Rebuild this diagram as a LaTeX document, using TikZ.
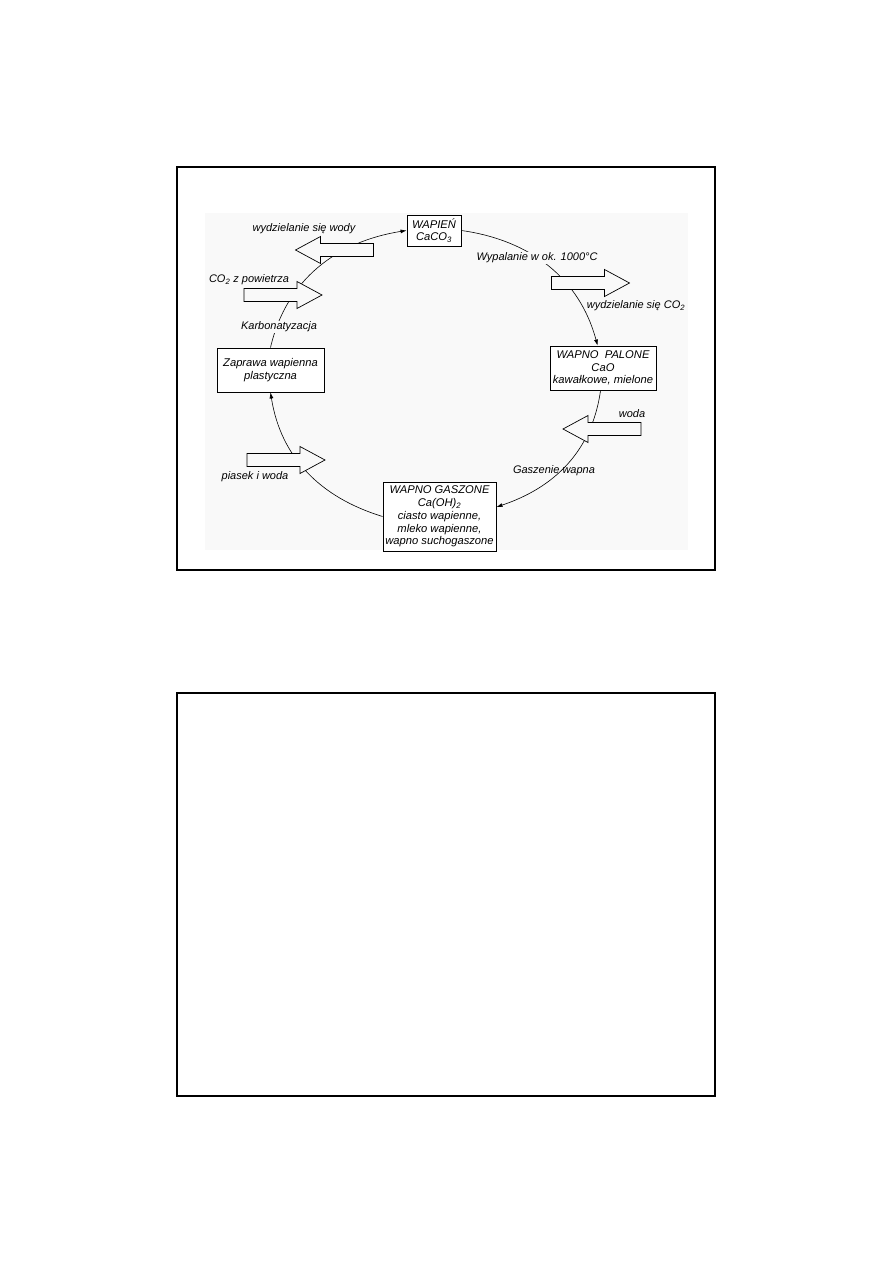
\documentclass[tikz,border=0pt]{standalone}
\usepackage{fontspec}
\setmainfont{Liberation Sans}
\usetikzlibrary{arrows.meta}
\definecolor{bggray}{RGB}{249,249,249}
\begin{document}
\begin{tikzpicture}[x=1pt,y=1pt,
  box/.style={draw, line width=0.9pt, fill=white, align=center, inner sep=0pt,
    font=\itshape\fontsize{11.2}{12.8}\selectfont},
  lbl/.style={font=\itshape\fontsize{11}{13}\selectfont, inner sep=1pt},
  cyc/.style={line width=0.6pt},
  tiphead/.style={-{Latex[length=6pt,width=4pt]}},
  barrow/.pic={\draw[line width=0.7pt, fill=bggray] (-39,-6.5) -- (14,-6.5) -- (14,-13.5) -- (39,0) -- (14,13.5) -- (14,6.5) -- (-39,6.5) -- cycle;}]
\useasboundingbox (0,0) rectangle (893,-1263);
% frames
\draw[line width=2pt] (177,-167) rectangle (715,-570);
\draw[line width=2pt] (177,-693) rectangle (715,-1096);
\fill[bggray] (205,-213) rectangle (688,-550);
% boxes
\node[box, minimum width=54pt, minimum height=31pt] (wap) at (434,-230.5) {WAPIEŃ\\CaCO\textsubscript{3}};
\node[box, minimum width=106pt, minimum height=44pt] (pal) at (603,-368) {WAPNO~~PALONE\\CaO\\kawałkowe, mielone};
\node[box, minimum width=113pt, minimum height=69pt] (gas) at (439.5,-516.5) {WAPNO GASZONE\\Ca(OH)\textsubscript{2}\\ciasto wapienne,\\mleko wapienne,\\wapno suchogaszone};
\node[box, minimum width=107pt, minimum height=44pt] (zap) at (270.5,-370) {Zaprawa wapienna\\plastyczna};
% cycle connectors
\draw[cyc,tiphead] (zap.north) to[out=77,in=189] (wap.west);
\draw[cyc,tiphead] (wap.east) to[out=-8,in=105] ([xshift=48pt]pal.north west);
\draw[cyc,tiphead] ([xshift=51pt]pal.south west) to[out=-98,in=18.5] ([yshift=9.5pt]gas.east);
\draw[cyc,tiphead] (gas.west) to[out=163,in=279] (zap.south);
% block arrows
\pic[rotate=180] at (334.5,-250) {barrow};
\pic at (283,-295) {barrow};
\pic at (590.5,-283) {barrow};
\pic[rotate=180] at (602,-429) {barrow};
\pic at (286,-460) {barrow};
% labels
\node[lbl] (l1) at (304,-229) {wydzielanie się wody};
\node[lbl] (l2) at (249,-280) {CO\textsubscript{2} z powietrza};
\node[lbl, fill=bggray] (l3) at (279,-327) {Karbonatyzacja};
\node[lbl, fill=bggray] (l4) at (537,-258) {Wypalanie w ok. 1000°C};
\node[lbl] (l5) at (636,-306) {wydzielanie się CO\textsubscript{2}};
\node[lbl] (l6) at (632,-414) {woda};
\node[lbl] (l7) at (554,-471) {Gaszenie wapna};
\node[lbl] (l8) at (255,-477) {piasek i woda};
\end{tikzpicture}
\end{document}
